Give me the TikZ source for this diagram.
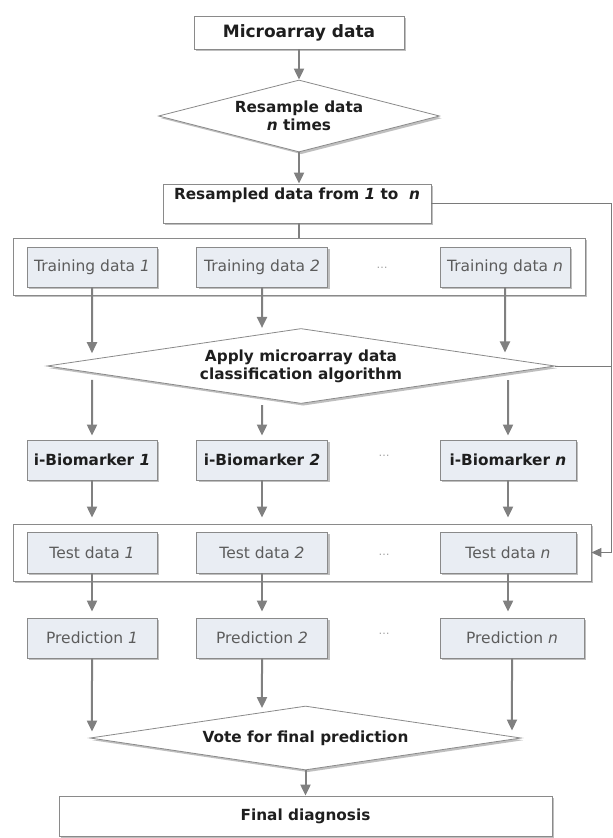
\documentclass[tikz,border=0pt]{standalone}
\usepackage{fontspec}
\setmainfont{DejaVu Sans}
\usetikzlibrary{shapes.geometric,shadows,arrows.meta}
\definecolor{boxfill}{HTML}{E9EDF3}
\definecolor{boxdraw}{HTML}{8A8A8A}
\definecolor{arrowc}{HTML}{808080}
\definecolor{linec}{HTML}{7A7A7A}
\definecolor{txtgray}{HTML}{5C5C5C}
\definecolor{txtdark}{HTML}{1E1E1E}
\definecolor{dotc}{HTML}{A0A0A0}
\begin{document}
\begin{tikzpicture}[x=1pt,y=-1pt,
  shade/.style={drop shadow={shadow xshift=2.2pt,shadow yshift=-2.2pt,opacity=0.25,fill=black}},
  inbox/.style={draw=boxdraw,fill=boxfill,line width=0.8pt,minimum height=40pt,inner sep=0pt,
    font=\fontsize{15.5}{18}\selectfont,text=txtgray,shade},
  biobox/.style={inbox,font=\bfseries\fontsize{15.3}{18}\selectfont,text=txtdark},
  topbox/.style={draw=boxdraw,fill=white,line width=0.8pt,inner sep=0pt,
    font=\bfseries\fontsize{15.3}{18}\selectfont,text=txtdark,shade},
  grp/.style={draw=boxdraw,fill=white,line width=0.8pt,inner sep=0pt,shade},
  dia/.style={diamond,draw=boxdraw,fill=white,line width=0.8pt,inner sep=0pt,align=center,
    font=\bfseries\fontsize{15.3}{18}\selectfont,text=txtdark,shade},
  dots/.style={text=dotc,font=\fontsize{11}{13}\selectfont,inner sep=0pt},
  lbl/.style={inner sep=0pt,font=\bfseries\fontsize{15.3}{18}\selectfont,text=txtdark},
  arr/.style={draw=arrowc,line width=2pt,-{Triangle[width=10pt,length=11pt]}},
  fb/.style={draw=linec,line width=0.9pt},
  fbarr/.style={fb,-{Triangle[width=9pt,length=10pt]}}
]
\useasboundingbox (0,0) rectangle (613,838);

% top part
\node[topbox,minimum width=210,minimum height=33,font=\bfseries\fontsize{17}{20}\selectfont] (ma) at (299,32.5) {Microarray data};
\node[dia,minimum width=281,minimum height=72,aspect=3.9] (d1) at (299,116) {Resample data\\\textit{n} times};
\node[topbox,minimum width=268,minimum height=39] (rs) at (297,203.5) {};
\node[lbl] (rst) at (297,195) {Resampled data from \textit{1} to~ \textit{n}};

% training group
\node[grp,minimum width=572,minimum height=57] (tg) at (299,266.5) {};
\node[inbox,minimum width=130] (t1) at (92,267) {Training data \textit{1}};
\node[inbox,minimum width=131] (t2) at (262,267) {Training data \textit{2}};
\node[inbox,minimum width=130] (tn) at (505,267) {Training data \textit{n}};
\node[dots] (td) at (382,268) {…};

% apply diamond
\node[dia,minimum width=508,minimum height=75,aspect=6.8] (ad) at (301,366) {Apply microarray data\\classification algorithm};

% biomarkers
\node[biobox,minimum width=130] (b1) at (92,460) {i-Biomarker \textit{1}};
\node[biobox,minimum width=131] (b2) at (262,460) {i-Biomarker \textit{2}};
\node[biobox,minimum width=136] (bn) at (508,460) {i-Biomarker \textit{n}};
\node[dots] (bd) at (384,456) {…};

% test group
\node[grp,minimum width=578,minimum height=57] (sg) at (302,552.5) {};
\node[inbox,minimum width=130,minimum height=41] (s1) at (92,552.5) {Test data \textit{1}};
\node[inbox,minimum width=131,minimum height=41] (s2) at (262,552.5) {Test data \textit{2}};
\node[inbox,minimum width=136,minimum height=41] (sn) at (508,552.5) {Test data \textit{n}};
\node[dots] (sd) at (384,555) {…};

% predictions
\node[inbox,minimum width=130] (p1) at (92,638) {Prediction \textit{1}};
\node[inbox,minimum width=131] (p2) at (262,638) {Prediction \textit{2}};
\node[inbox,minimum width=144] (pn) at (512,638) {Prediction \textit{n}};
\node[dots] (pd) at (384,634) {…};

% vote and final
\node[dia,minimum width=431,minimum height=64,aspect=6.7] (vd) at (305.5,738) {Vote for final prediction};
\node[topbox,minimum width=493,minimum height=40] (fin) at (305.5,816) {Final diagnosis};

% connectors top
\draw[arr] (ma.south) -- (d1.north);
\draw[arr] (d1.south) -- (d1.south |- rs.north);
\draw[draw=arrowc,line width=1.6pt] (d1.south |- rs.south) -- (d1.south |- tg.north);

% feedback line
\coordinate (fbx) at (611,0);
\draw[fb] (rs.east) -- (rs.east -| fbx) -- (fbx |- sg.east);
\draw[fbarr] (fbx |- sg.east) -- (sg.east);
\draw[fb] (ad.east) -- (ad.east -| fbx);

% training -> apply
\draw[arr,shorten >=6pt] (t1.south) -- (intersection of t1.south--t1.north and ad.west--ad.north);
\draw[arr,shorten >=6pt] (t2.south) -- (intersection of t2.south--t2.north and ad.west--ad.north);
\draw[arr,shorten >=6pt] (tn.south) -- (intersection of tn.south--tn.north and ad.east--ad.north);

% apply -> biomarkers
\draw[arr,shorten <=7pt,shorten >=4pt] (intersection of b1.north--b1.south and ad.west--ad.south) -- (b1.north);
\draw[arr,shorten <=7pt,shorten >=4pt] (intersection of b2.north--b2.south and ad.west--ad.south) -- (b2.north);
\draw[arr,shorten <=7pt,shorten >=4pt] (intersection of bn.north--bn.south and ad.east--ad.south) -- (bn.north);

% biomarkers -> test group
\draw[arr,shorten >=6pt] (b1.south) -- (b1.south |- sg.north);
\draw[arr,shorten >=6pt] (b2.south) -- (b2.south |- sg.north);
\draw[arr,shorten >=6pt] (bn.south) -- (bn.south |- sg.north);

% test -> predictions
\draw[arr,shorten >=6pt] (s1.south) -- (p1.north);
\draw[arr,shorten >=6pt] (s2.south) -- (p2.north);
\draw[arr,shorten >=6pt] (sn.south) -- (sn.south |- pn.north);

% predictions -> vote
\draw[arr,shorten >=6pt] (p1.south) -- (intersection of p1.south--p1.north and vd.west--vd.north);
\draw[arr,shorten >=4pt] (p2.south) -- (intersection of p2.south--p2.north and vd.west--vd.north);
\draw[arr,shorten >=6pt] (pn.south) -- (intersection of pn.south--pn.north and vd.east--vd.north);

% vote -> final
\draw[arr] (vd.south) -- (fin.north);
\end{tikzpicture}
\end{document}
